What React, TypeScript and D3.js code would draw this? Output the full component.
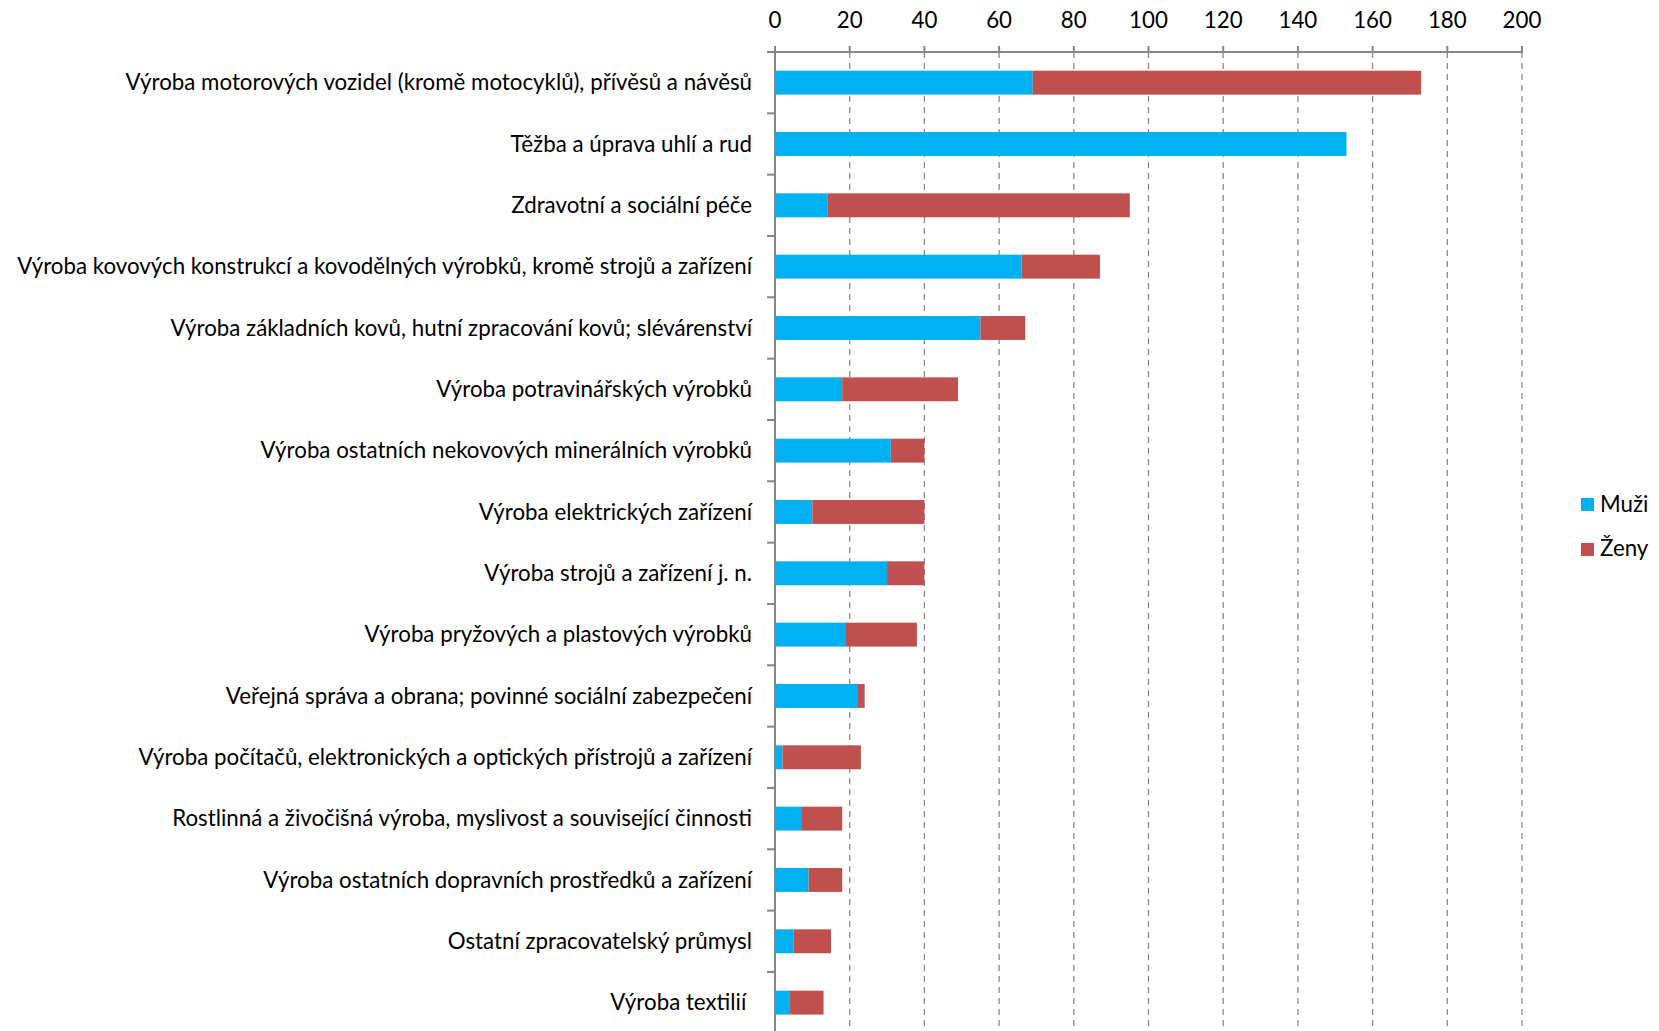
import React from "react";
import * as d3 from "d3";

const categories = [
  "Výroba motorových vozidel (kromě motocyklů), přívěsů a návěsů",
  "Těžba a úprava uhlí a rud",
  "Zdravotní a sociální péče",
  "Výroba kovových konstrukcí a kovodělných výrobků, kromě strojů a zařízení",
  "Výroba základních kovů, hutní zpracování kovů; slévárenství",
  "Výroba potravinářských výrobků",
  "Výroba ostatních nekovových minerálních výrobků",
  "Výroba elektrických zařízení",
  "Výroba strojů a zařízení j. n.",
  "Výroba pryžových a plastových výrobků",
  "Veřejná správa a obrana; povinné sociální zabezpečení",
  "Výroba počítačů, elektronických a optických přístrojů a zařízení",
  "Rostlinná a živočišná výroba, myslivost a související činnosti",
  "Výroba ostatních dopravních prostředků a zařízení",
  "Ostatní zpracovatelský průmysl",
  "Výroba textilií\u00A0",
];
const muzi = [69, 153, 14, 66, 55, 18, 31, 10, 30, 19, 22, 2, 7, 9, 5, 4];
const zeny = [104, 0, 81, 21, 12, 31, 9, 30, 10, 19, 2, 21, 11, 9, 10, 9];
const xTicks = [0, 20, 40, 60, 80, 100, 120, 140, 160, 180, 200];
const seriesNames = ["Muži", "Ženy"];
const colors = ["#00B0F0", "#C0504D"];

const W = 1659;
const H = 1031;
const FONT = "Lato, 'Open Sans', sans-serif";
const FS = 22.3;

export default function App() {
  const x = d3.scaleLinear().domain([0, 200]).range([775, 1522]);
  const y = d3
    .scaleBand<string>()
    .domain(categories)
    .range([52, 52 + 16 * 61.33])
    .paddingInner(0.61)
    .paddingOuter(0.305);
  const step = y.step();
  const top = 52;
  const bottom = H;

  const stack = d3
    .stack<number>()
    .keys([0, 1] as any)
    .value((i: number, k: any) => (k === 0 ? muzi[i] : zeny[i]));
  const series = stack(d3.range(categories.length));

  return (
    <svg
      width={W}
      height={H}
      style={{ position: "absolute", left: 0, top: 0, background: "#fff" }}
    >
      {/* gridlines */}
      {xTicks
        .filter((t) => t !== 0)
        .map((t) => (
          <line
            key={"g" + t}
            x1={x(t)}
            x2={x(t)}
            y1={top}
            y2={bottom}
            stroke="#8a8a8a"
            strokeWidth={1.3}
            strokeDasharray="6,5"
          />
        ))}
      {/* bars */}
      {series.map((s, si) =>
        s.map((d, i) =>
          d[1] - d[0] > 0 ? (
            <rect
              key={si + "-" + i}
              x={x(d[0])}
              width={x(d[1]) - x(d[0])}
              y={y(categories[i])}
              height={y.bandwidth()}
              fill={colors[si]}
            />
          ) : null
        )
      )}
      {/* top axis */}
      <line x1={767} x2={x(200) + 1} y1={top} y2={top} stroke="#868686" strokeWidth={2} />
      {xTicks.map((t) => (
        <g key={"t" + t}>
          <line x1={x(t)} x2={x(t)} y1={top - 6} y2={top} stroke="#868686" strokeWidth={2} />
          <text
            x={x(t)}
            y={28}
            textAnchor="middle"
            fontFamily={FONT}
            fontSize={FS}
            fill="#000"
          >
            {t}
          </text>
        </g>
      ))}
      {/* left axis */}
      <line x1={x(0)} x2={x(0)} y1={top} y2={bottom} stroke="#868686" strokeWidth={2} />
      {d3.range(categories.length + 1).map((i) => (
        <line
          key={"c" + i}
          x1={767}
          x2={x(0)}
          y1={top + i * step}
          y2={top + i * step}
          stroke="#868686"
          strokeWidth={2}
        />
      ))}
      {categories.map((c) => {
        const cy = (y(c) as number) + y.bandwidth() / 2;
        return (
          <text
            key={c}
            x={752}
            y={cy}
            dy="0.34em"
            textAnchor="end"
            fontFamily={FONT}
            fontSize={FS}
            fill="#000"
            style={{ whiteSpace: "pre" }}
          >
            {c}
          </text>
        );
      })}
      {/* legend */}
      {seriesNames.map((n, i) => (
        <g key={n}>
          <rect x={1581} y={498 + i * 45} width={13} height={13} fill={colors[i]} />
          <text x={1600} y={512 + i * 44} fontFamily={FONT} fontSize={FS} fill="#000">
            {n}
          </text>
        </g>
      ))}
    </svg>
  );
}
